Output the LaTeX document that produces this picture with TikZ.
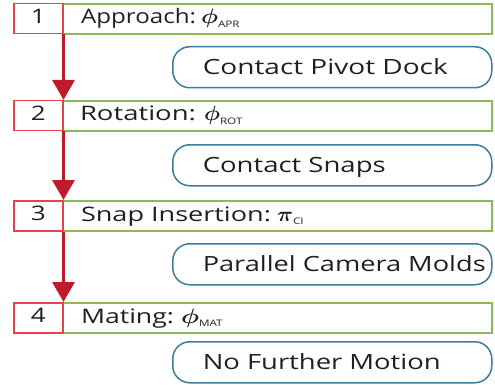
\documentclass[tikz,border=0pt]{standalone}
\usepackage{fontspec}
\usepackage{amsmath,amssymb}
\setmainfont{Open Sans}[FakeStretch=1.3]
\usetikzlibrary{arrows.meta}
\definecolor{redbox}{HTML}{E8414F}
\definecolor{greenbox}{HTML}{8DB858}
\definecolor{tealbox}{HTML}{3C7E98}
\definecolor{arrowred}{HTML}{C01B2C}
\definecolor{txt}{HTML}{231F20}
\tikzset{
  numbox/.style={draw=redbox, line width=1.5pt, minimum width=49pt, minimum height=30pt, inner sep=0pt, anchor=north west, text=txt, font=\fontsize{20}{20}\selectfont, text height=14pt, text depth=4pt},
  stepbox/.style={draw=greenbox, line width=2pt, minimum width=429pt, minimum height=30pt, inner sep=0pt, anchor=north west, text=txt, font=\fontsize{20}{20}\selectfont, align=left, text width=429pt, text height=14pt, text depth=4pt},
  statebox/.style={draw=tealbox, line width=1.5pt, rounded corners=17pt, minimum width=319pt, minimum height=41pt, inner sep=0pt, anchor=north west, text=txt, font=\fontsize{21}{21}\selectfont, align=left, text width=319pt, text height=15pt, text depth=0pt}
}
\tikzset{flow/.style={draw=arrowred, line width=3pt, -{Triangle[width=22pt,length=20pt]}}}
\newcommand{\fitw}[2]{\resizebox{#1}{\height}{#2}}
\newcommand{\subtag}[1]{\raisebox{-3.5pt}{\fontsize{9}{9}\selectfont #1}}
\newcommand{\greekphi}[1]{\fitw{#1}{$\boldsymbol{\phi}$}}
\newcommand{\greekpi}[1]{\fitw{#1}{$\boldsymbol{\pi}$}}
\begin{document}
\begin{tikzpicture}[x=1pt,y=-1pt]
\useasboundingbox (0,0) rectangle (495,385);
% rows
\node[stepbox] (s1) at (62,3) {\hspace*{18pt}\fitw{115pt}{Approach:}\hspace{5pt}\greekphi{17pt}\subtag{APR}};
\node[numbox] (n1) at (13,3) {1};
\node[statebox] (c1) at (172,46) {\hspace*{30pt}\fitw{245pt}{Contact Pivot Dock}};

\node[stepbox] (s2) at (62,100) {\hspace*{17pt}\fitw{116pt}{Rotation:}\hspace{8pt}\greekphi{16pt}\subtag{ROT}};
\node[numbox] (n2) at (13,100) {2};
\node[statebox] (c2) at (172,144) {\hspace*{30pt}\fitw{183pt}{Contact Snaps}};

\node[stepbox] (s3) at (62,200) {\hspace*{18pt}\fitw{190pt}{Snap Insertion:}\hspace{6pt}\greekpi{16pt}\subtag{CI}};
\node[numbox] (n3) at (13,200) {3};
\node[statebox] (c3) at (172,243) {\hspace*{30pt}\fitw{283pt}{Parallel Camera Molds}};

\node[stepbox] (s4) at (62,302) {\hspace*{18pt}\fitw{93pt}{Mating:}\hspace{7pt}\greekphi{18pt}\subtag{MAT}};
\node[numbox] (n4) at (13,302) {4};
\node[statebox] (c4) at (172,341) {\hspace*{30pt}\fitw{238pt}{No Further Motion}};

\draw[flow] (n1.south east) -- (n2.north east);
\draw[flow] (n2.south east) -- (n3.north east);
\draw[flow] (n3.south east) -- (n4.north east);
\end{tikzpicture}
\end{document}
